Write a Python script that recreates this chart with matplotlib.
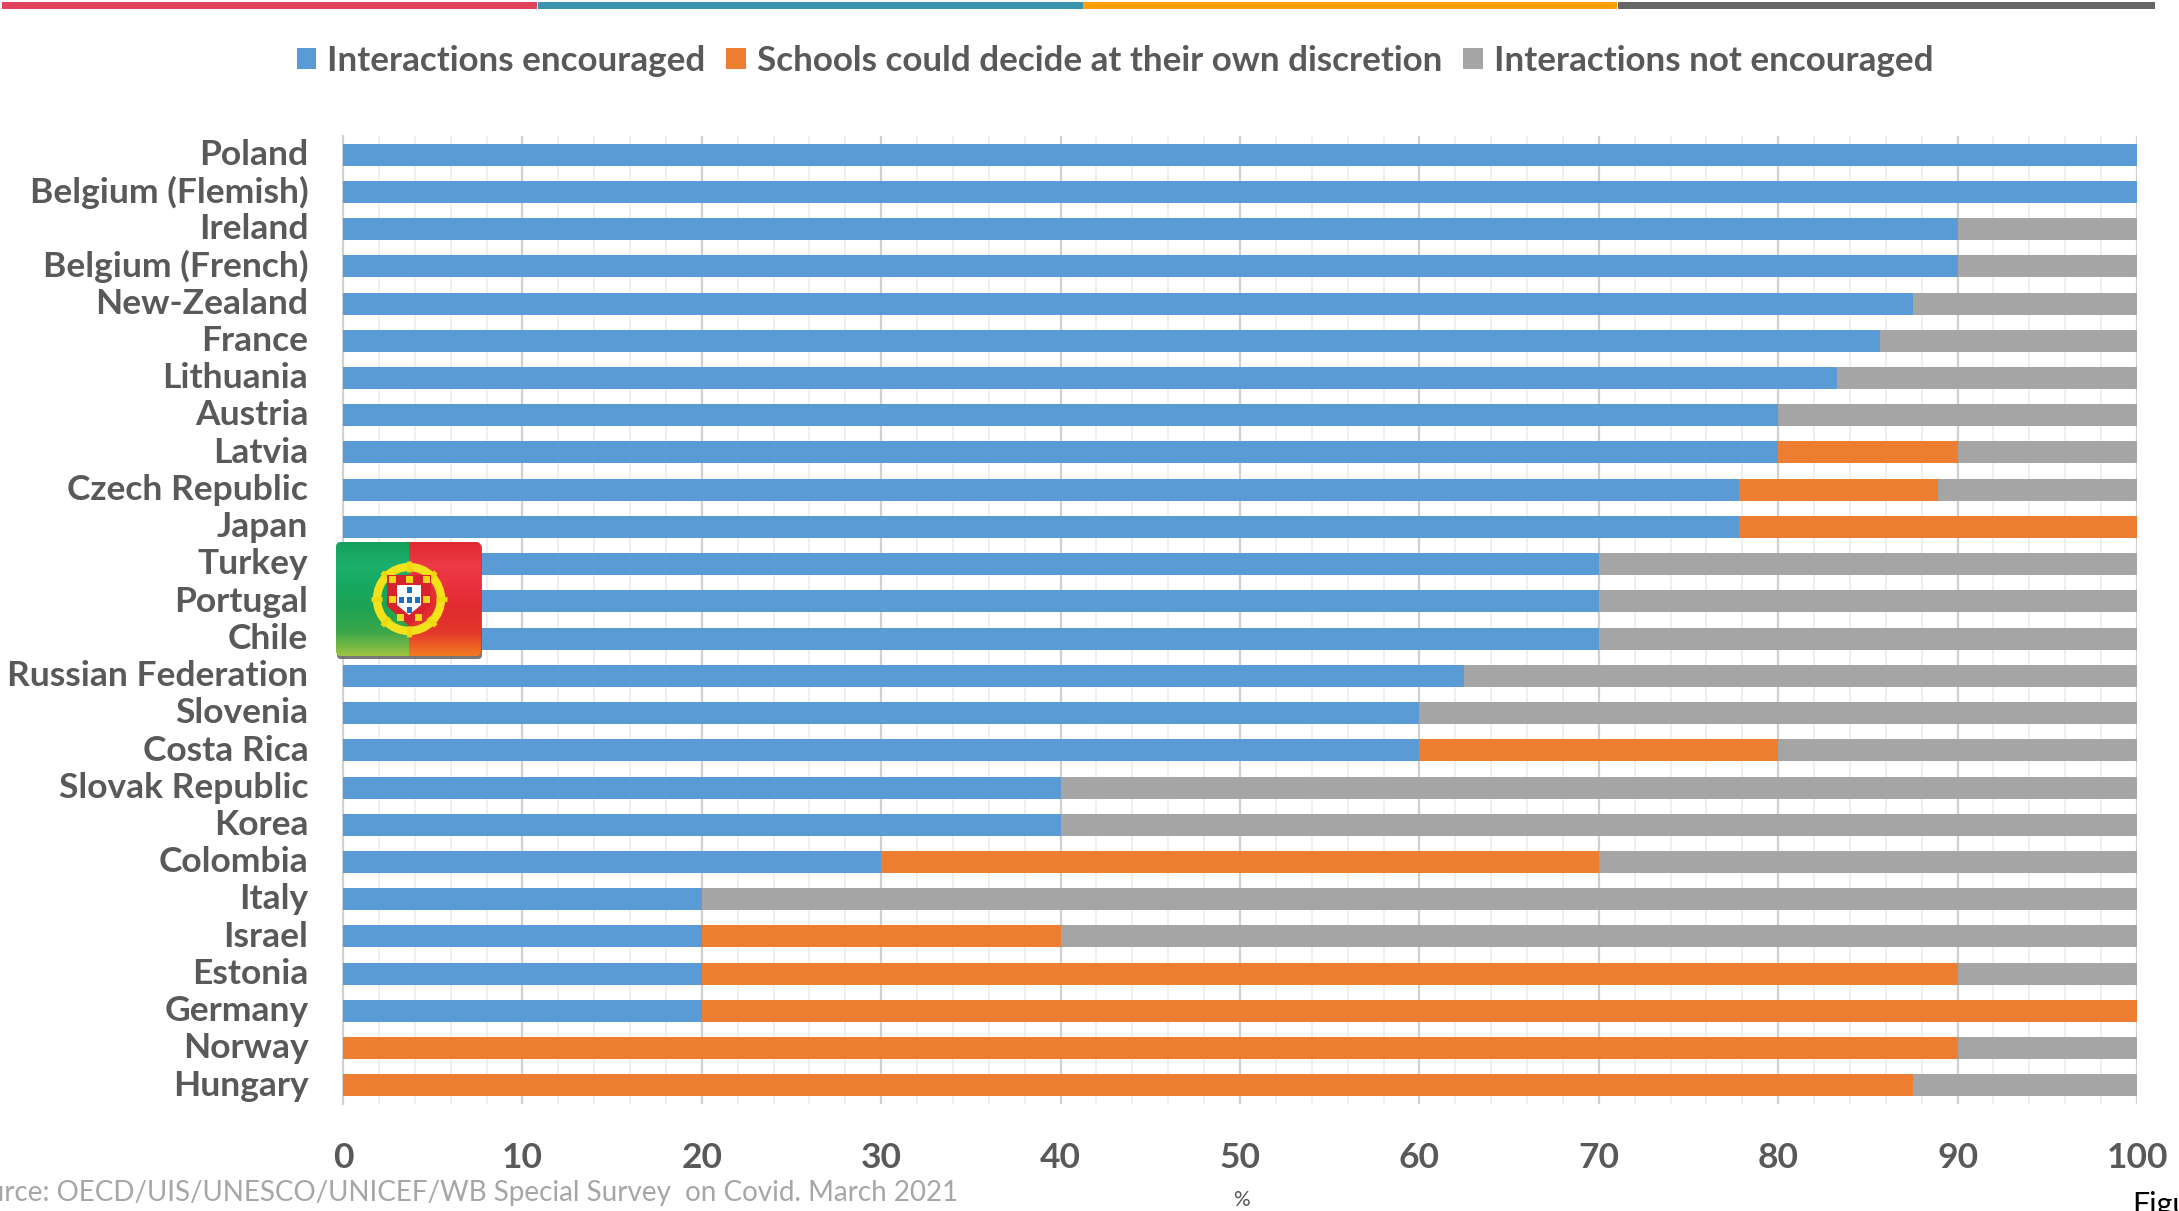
import numpy as np
import matplotlib
matplotlib.use("Agg")
import matplotlib.pyplot as plt
from matplotlib.patches import FancyBboxPatch, Rectangle, Circle, Polygon
from matplotlib.colors import LinearSegmentedColormap
from matplotlib.transforms import ScaledTranslation

W, H = 2179, 1211
countries = ["Poland", "Belgium (Flemish)", "Ireland", "Belgium (French)", "New-Zealand", "France",
             "Lithuania", "Austria", "Latvia", "Czech Republic", "Japan", "Turkey", "Portugal", "Chile",
             "Russian Federation", "Slovenia", "Costa Rica", "Slovak Republic", "Korea", "Colombia",
             "Italy", "Israel", "Estonia", "Germany", "Norway", "Hungary"]
encouraged = [100, 100, 90, 90, 87.5, 85.7, 83.3, 80, 80, 77.8, 77.8, 70, 70, 70, 62.5, 60, 60, 40, 40, 30, 20, 20, 20, 20, 0, 0]
discretion = [0, 0, 0, 0, 0, 0, 0, 0, 10, 11.1, 22.2, 0, 0, 0, 0, 0, 20, 0, 0, 40, 0, 20, 70, 80, 90, 87.5]
not_encouraged = [0, 0, 10, 10, 12.5, 14.3, 16.7, 20, 10, 11.1, 0, 30, 30, 30, 37.5, 40, 20, 60, 60, 30, 80, 60, 10, 0, 10, 12.5]
series_names = ["Interactions encouraged", "Schools could decide at their own discretion", "Interactions not encouraged"]
series_colors = ["#5B9BD5", "#ED7D31", "#A5A5A5"]
xticks = list(range(0, 101, 10))

plt.rcParams['font.family'] = ['Lato', 'DejaVu Sans']
TXT = "#595959"
fig = plt.figure(figsize=(W/100, H/100), dpi=100, facecolor="white")
def fx(p): return p/W
def fy(p): return 1-p/H

ax = fig.add_axes([fx(343), fy(1104), fx(2137-343), (1104-136)/H])
y = np.arange(len(countries))
left = np.zeros(len(countries))
for vals, name, col in zip([encouraged, discretion, not_encouraged], series_names, series_colors):
    ax.barh(y, vals, left=left, height=0.59, color=col, label=name, zorder=3, linewidth=0)
    left += np.array(vals)
ax.set_xlim(0, 100)
ax.set_ylim(len(countries)-0.5, -0.5)
ax.set_yticks(y, countries)
ax.set_xticks(xticks)
ax.set_xticks(np.arange(0, 101, 2), minor=True)
ax.grid(axis="x", which="major", color="#D0D0D0", lw=1.6, zorder=0)
ax.grid(axis="x", which="minor", color="#EFEFEF", lw=1.4, zorder=0)
ax.tick_params(axis="both", which="both", length=0)
ax.tick_params(axis="y", pad=25, labelsize=25.5, labelcolor=TXT)
ax.tick_params(axis="x", pad=27, labelsize=25.5, labelcolor=TXT)
for s in ["top", "right", "bottom"]:
    ax.spines[s].set_visible(False)
ax.spines["left"].set_color("#D0D0D0")
ax.spines["left"].set_linewidth(1.4)
for t in ax.get_yticklabels() + ax.get_xticklabels():
    t.set_fontweight("bold")
shift = ScaledTranslation(0, 2/72, fig.dpi_scale_trans)
for t in ax.get_yticklabels():
    t.set_transform(t.get_transform() + shift)

fig.legend(*ax.get_legend_handles_labels(), loc="center", bbox_to_anchor=(fx(1115), fy(61)), ncol=3, frameon=False,
           prop={"size": 25.2, "weight": "bold"}, labelcolor=TXT, handlelength=0.56, handleheight=0.56,
           handletextpad=0.31, columnspacing=0.6, borderpad=0)

# top strip
for x0, x1, c in [(2, 537, "#E0445C"), (538, 1083, "#3A94AE"), (1083, 1617, "#FF9F0A"), (1618, 2155, "#666666")]:
    fig.add_artist(Rectangle((fx(x0), fy(8.5)), (x1-x0)/W, 6.5/H, transform=fig.transFigure, color=c, lw=0))

fig.text(fx(-42), fy(1193), "Source: OECD/UIS/UNESCO/UNICEF/WB Special Survey  on Covid. March 2021",
         fontsize=20, color="#A6A6A6", va="center", ha="left")
fig.text(fx(1241), fy(1200), "%", fontsize=15, color=TXT, va="center", ha="center")
fig.text(fx(2132), fy(1205), "Figure", fontsize=22, color="black", va="center", ha="left")

# Portugal flag decoration
fa = fig.add_axes([fx(334), fy(662), 150/W, 122/H])
fa.set_xlim(334, 484); fa.set_ylim(662, 540); fa.axis("off")
fa.add_patch(FancyBboxPatch((337, 544), 145, 115, boxstyle="round,pad=0,rounding_size=4", fc="#606060", ec="none", alpha=.85, zorder=1))
clip = FancyBboxPatch((336, 542), 145, 114, boxstyle="round,pad=0,rounding_size=5", fc="none", ec="none", zorder=1)
fa.add_patch(clip)
gc = LinearSegmentedColormap.from_list("g", ["#14A05A", "#1CB06C", "#16A860", "#1FA252", "#3DA84A", "#9CC341"])
rc = LinearSegmentedColormap.from_list("r", ["#E0282F", "#EE3B48", "#E8303C", "#E02B30", "#E3392B", "#F47A22"])
g = np.linspace(0, 1, 100)[:, None]
im1 = fa.imshow(g, cmap=gc, extent=(336, 409, 656, 542), aspect="auto", zorder=2)
im2 = fa.imshow(g, cmap=rc, extent=(409, 481, 656, 542), aspect="auto", zorder=2)
im1.set_clip_path(clip); im2.set_clip_path(clip)
fa.set_xlim(334, 484); fa.set_ylim(662, 540)
fa.add_patch(Circle((409, 599), 32, fc="none", ec="#F2E21B", lw=6, zorder=3))
for a in np.arange(0, 360, 45):
    r = np.radians(a)
    fa.plot([409+27*np.cos(r), 409+38*np.cos(r)], [599+27*np.sin(r), 599+38*np.sin(r)], color="#EFD90E", lw=3.5, solid_capstyle="butt", zorder=3)
fa.add_patch(Polygon([(387, 575), (431, 575), (431, 606), (409, 626), (387, 606)], fc="#D8232F", ec="none", zorder=4))
fa.add_patch(Polygon([(397, 585), (421, 585), (421, 605), (409, 615), (397, 605)], fc="white", ec="none", zorder=5))
for px, py in [(409, 590), (401, 600), (409, 600), (417, 600), (409, 610)]:
    fa.add_patch(Rectangle((px-2.5, py-3), 5, 6, fc="#1F6FC0", ec="none", zorder=6))
for px, py in [(392, 580), (409, 580), (426, 580), (392, 600), (426, 600), (400, 618), (418, 618)]:
    fa.add_patch(Rectangle((px-3.5, py-3.5), 7, 7, fc="#F2D817", ec="none", zorder=6))

fig.savefig("out.png", dpi=100)
